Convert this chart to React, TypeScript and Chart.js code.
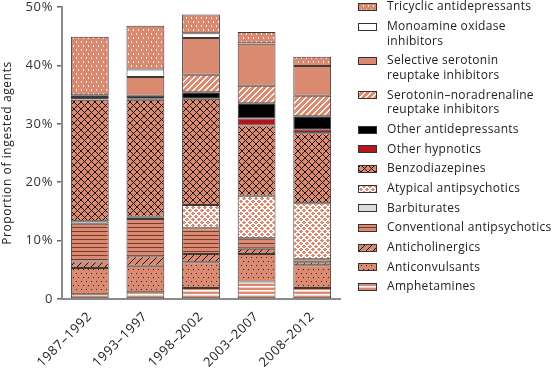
import { useEffect, useRef } from 'react';
import { Chart, registerables } from 'chart.js';
Chart.register(...registerables);

const categories = ['1987–1992', '1993–1997', '1998–2002', '2003–2007', '2008–2012'];

// stacked bottom → top
const amphetamines = [0.8, 1.15, 1.9, 3.0, 1.9];
const anticonvulsants = [4.5, 4.55, 4.4, 4.7, 3.9];
const anticholinergics = [1.1, 1.6, 1.4, 0.9, 0.5];
const conventionalAntipsychotics = [6.5, 6.4, 4.4, 1.8, 0.5];
const barbiturates = [0.4, 0.2, 0, 0, 0];
const atypicalAntipsychotics = [0, 0.2, 4.0, 7.3, 9.6];
const benzodiazepines = [20.8, 20.0, 18.2, 12.0, 12.0];
const otherHypnotics = [0.1, 0.2, 0, 1.2, 0.6];
const otherAntidepressants = [0.4, 0.5, 1.1, 2.6, 2.3];
const snris = [0, 0, 3.0, 3.0, 3.5];
const ssris = [0, 3.2, 6.3, 7.2, 5.1];
const maois = [0.3, 1.3, 0.8, 0.1, 0];
const tricyclics = [10.0, 7.5, 3.2, 1.9, 1.6];

const yTicks = [0, 10, 20, 30, 40, 50];
const yTitle = 'Proportion of ingested agents';

const SAL = '#DB8A72';
const FONT = 'Open Sans';

function tile(w: number, h: number, fn: (x: number, y: number) => string) {
  const c = document.createElement('canvas');
  c.width = w;
  c.height = h;
  const ctx = c.getContext('2d')!;
  for (let y = 0; y < h; y++) {
    for (let x = 0; x < w; x++) {
      ctx.fillStyle = fn(x, y);
      ctx.fillRect(x, y, 1, 1);
    }
  }
  return ctx.createPattern(c, 'repeat')!;
}

function makePatterns() {
  const mod = (a: number, m: number) => ((a % m) + m) % m;
  return {
    tricyclic: tile(5, 8, (x, y) =>
      (x === 1 && (y === 1 || y === 2)) || (x === 3 && (y === 5 || y === 6)) ? '#FBE6DE' : SAL),
    maoi: '#FFFFFF',
    ssri: SAL,
    snri: tile(6, 6, (x, y) => (mod(x + y, 6) < 2 ? '#FFF3EE' : SAL)),
    otherAD: '#000000',
    otherHyp: '#B5161B',
    benzo: tile(7, 7, (x, y) => (mod(x + y, 7) === 0 || mod(x - y, 7) === 0 ? '#1E0F0A' : SAL)),
    barb: '#DCDCDC',
    atypical: tile(6, 6, (x, y) => (mod(x + y, 6) < 2 || mod(x - y, 6) < 2 ? '#FFFFFF' : SAL)),
    conventional: tile(1, 4, (x, y) => (y === 3 ? '#7A3B2C' : SAL)),
    anticholinergic: tile(7, 7, (x, y) => (mod(x + y, 7) === 0 ? '#1E0F0A' : SAL)),
    anticonvulsant: tile(5, 8, (x, y) => ((x === 1 && y === 1) || (x === 3 && y === 5) ? '#3B1C12' : SAL)),
    amphetamine: tile(1, 4, (x, y) => (y === 2 ? '#FFFFFF' : y === 3 ? '#F3CFC3' : SAL)),
  };
}

export default function App() {
  const ref = useRef<HTMLCanvasElement>(null);
  useEffect(() => {
    document.body.style.margin = '0';
    const p = makePatterns();
    const series = [
      { label: ['Amphetamines'], data: amphetamines, bg: p.amphetamine },
      { label: ['Anticonvulsants'], data: anticonvulsants, bg: p.anticonvulsant },
      { label: ['Anticholinergics'], data: anticholinergics, bg: p.anticholinergic },
      { label: ['Conventional antipsychotics'], data: conventionalAntipsychotics, bg: p.conventional },
      { label: ['Barbiturates'], data: barbiturates, bg: p.barb },
      { label: ['Atypical antipsychotics'], data: atypicalAntipsychotics, bg: p.atypical },
      { label: ['Benzodiazepines'], data: benzodiazepines, bg: p.benzo },
      { label: ['Other hypnotics'], data: otherHypnotics, bg: p.otherHyp },
      { label: ['Other antidepressants'], data: otherAntidepressants, bg: p.otherAD },
      { label: ['Serotonin–noradrenaline', 'reuptake inhibitors'], data: snris, bg: p.snri },
      { label: ['Selective serotonin', 'reuptake inhibitors'], data: ssris, bg: p.ssri },
      { label: ['Monoamine oxidase', 'inhibitors'], data: maois, bg: p.maoi },
      { label: ['Tricyclic antidepressants'], data: tricyclics, bg: p.tricyclic },
    ];

    const spacingPlugin = {
      id: 'spacing',
      beforeDraw(chart: any) {
        chart.ctx.letterSpacing = '0.6px';
      },
    };

    const legendPlugin = {
      id: 'customLegend',
      afterDraw(chart: any) {
        const ctx = chart.ctx;
        ctx.save();
        ctx.letterSpacing = '0.3px';
        ctx.font = `12px "${FONT}"`;
        ctx.textBaseline = 'middle';
        ctx.textAlign = 'left';
        let y = 7;
        const ds = chart.data.datasets;
        for (let i = ds.length - 1; i >= 0; i--) {
          const d = ds[i];
          const lines: string[] = d.legendLines;
          ctx.fillStyle = d.backgroundColor;
          ctx.fillRect(358, Math.round(y) - 4, 19, 8);
          ctx.strokeStyle = '#333';
          ctx.lineWidth = 1;
          ctx.strokeRect(358.5, Math.round(y) - 3.5, 18, 7);
          ctx.fillStyle = '#222';
          lines.forEach((t, k) => ctx.fillText(t, 387, y + k * 14.67));
          y += 19.67 + (lines.length - 1) * 14.67;
        }
        ctx.restore();
        ctx.letterSpacing = '0px';
      },
    };

    const chart = new Chart(ref.current!, {
      type: 'bar',
      data: {
        labels: categories,
        datasets: series.map((s) => ({
          label: s.label.join(' '),
          legendLines: s.label,
          data: s.data,
          backgroundColor: s.bg,
          borderColor: '#3a3a3a',
          borderWidth: 1,
          borderSkipped: false,
          barPercentage: 0.68,
          categoryPercentage: 1,
        })) as any,
      },
      options: {
        responsive: false,
        animation: false,
        devicePixelRatio: 1,
        layout: { padding: { left: 0, right: 215, top: 7, bottom: 0 } },
        plugins: { legend: { display: false }, tooltip: { enabled: false } },
        scales: {
          x: {
            stacked: true,
            grid: { display: false, drawTicks: false },
            border: { display: true, color: '#8c8c8c', width: 2 },
            ticks: {
              font: { family: FONT, size: 13 },
              color: '#222',
              maxRotation: 45,
              minRotation: 45,
              padding: 10,
            },
            afterFit: (s: any) => {
              s.height = 70;
              s.paddingLeft = 0;
              s.paddingRight = 0;
            },
          },
          y: {
            stacked: true,
            min: yTicks[0],
            max: yTicks[yTicks.length - 1],
            ticks: {
              stepSize: 10,
              font: { family: FONT, size: 13 },
              color: '#333',
              padding: 4,
              callback: (v: any) => (v === 0 ? '0' : v + '%'),
            },
            grid: { drawOnChartArea: false, drawTicks: true, tickLength: 5, color: '#666', lineWidth: 1.5 },
            border: { color: '#8c8c8c', width: 2 },
            title: { display: true, text: yTitle, font: { family: FONT, size: 12 }, color: '#222', padding: 0 },
            afterFit: (s: any) => {
              s.width = 62;
              s.paddingTop = 0;
              s.paddingBottom = 0;
            },
          },
        },
      },
      plugins: [spacingPlugin, legendPlugin],
    });
    return () => chart.destroy();
  }, []);
  return (
    <div style={{ width: 555, height: 369 }}>
      <canvas ref={ref} width={555} height={369} style={{ display: 'block' }} />
    </div>
  );
}
